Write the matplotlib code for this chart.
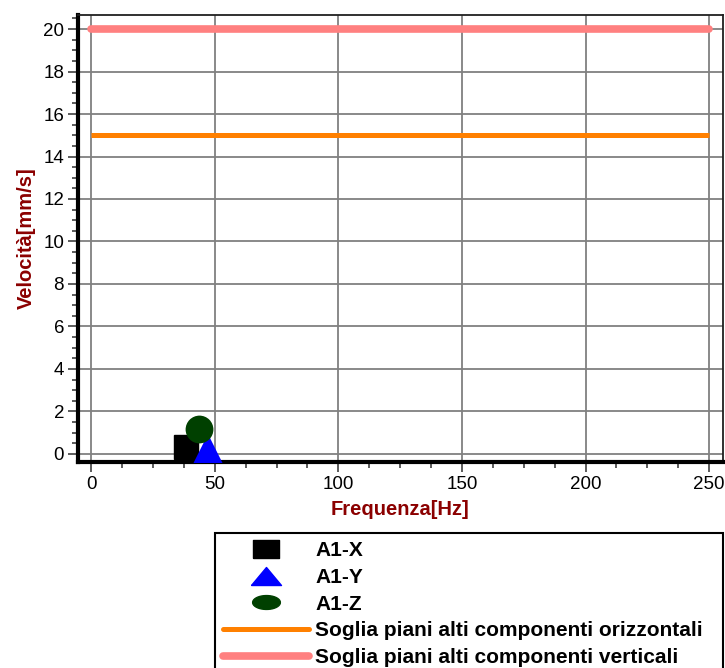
import numpy as np
import matplotlib.pyplot as plt
from matplotlib.lines import Line2D
from matplotlib.ticker import MultipleLocator

plt.rcParams['font.family'] = ['Liberation Sans', 'DejaVu Sans']

############################# DATA #############################
freq_x = [38.4]
vel_x = [0.33]
freq_y = [47.3]
vel_y = [0.21]
freq_z = [43.7]
vel_z = [1.18]

soglia_freq = [0, 250]
soglia_orizz = [15, 15]
soglia_vert = [20, 20]

labels = ['A1-X', 'A1-Y', 'A1-Z',
          'Soglia piani alti componenti orizzontali',
          'Soglia piani alti componenti verticali']

label_col = '#8B0000'

############################# PLOT #############################
fig = plt.figure(figsize=(7.25, 6.68), dpi=100)
ax = fig.add_axes([0.1076, 0.3084, 0.8896, 0.6691])

ax.plot(soglia_freq, soglia_vert, color='#FF8080', lw=5.5, solid_capstyle='round', zorder=3)
ax.plot(soglia_freq, soglia_orizz, color='#FF8000', lw=3.6, solid_capstyle='butt', zorder=3)

ax.plot(freq_x, vel_x, ls='none', marker='s', ms=17, color='black', zorder=4)
ax.plot(freq_y, vel_y, ls='none', marker='^', ms=21, color='#0000FF', mew=0, zorder=5)
ax.plot(freq_z, vel_z, ls='none', marker='o', ms=20, color='#004000', mew=0, zorder=6)

ax.set_xlim(-5.3, 255.6)
ax.set_ylim(-0.38, 20.66)
ax.xaxis.set_major_locator(MultipleLocator(50))
ax.xaxis.set_minor_locator(MultipleLocator(12.5))
ax.yaxis.set_major_locator(MultipleLocator(2))
ax.yaxis.set_minor_locator(MultipleLocator(0.5))
ax.grid(True, which='major', color='#808080', lw=1.3)
ax.set_axisbelow(True)

ax.tick_params(which='major', direction='out', length=7, width=1.2, color='#404040',
               labelsize=13.5, pad=3)
ax.tick_params(which='minor', direction='out', length=4, width=1.2, color='#404040')

for s in ['left', 'bottom']:
    ax.spines[s].set_linewidth(3)
    ax.spines[s].set_color('black')
for s in ['right', 'top']:
    ax.spines[s].set_linewidth(1.3)
    ax.spines[s].set_color('#202020')

ax.set_xlabel('Frequenza[Hz]', color=label_col, fontsize=14.5, fontweight='bold', labelpad=5)
ax.set_ylabel('Velocità[mm/s]', color=label_col, fontsize=14.5, fontweight='bold', labelpad=5)

############################# LEGEND #############################
rect = [(-1.44, -1), (1.44, -1), (1.44, 1), (-1.44, 1), (-1.44, -1)]
tri = [(-1, -0.6), (1, -0.6), (0, 0.6), (-1, -0.6)]
t = np.linspace(0, 2 * np.pi, 40)
ell = list(zip(np.cos(t), 0.5 * np.sin(t)))

handles = [
    Line2D([], [], ls='none', marker=rect, ms=18.7, color='black'),
    Line2D([], [], ls='none', marker=tri, ms=21.6, color='#0000FF'),
    Line2D([], [], ls='none', marker=ell, ms=20, color='#004000'),
    Line2D([], [], color='#FF8000', lw=3.6, solid_capstyle='round'),
    Line2D([], [], color='#FF8080', lw=5.5, solid_capstyle='round'),
]

leg = fig.legend(handles, labels, loc='upper left',
                 bbox_to_anchor=(0.2966, -0.05, 0.7, 0.2521), mode='expand',
                 prop={'size': 15, 'weight': 'bold'}, frameon=True, fancybox=False,
                 edgecolor='black', framealpha=1, borderpad=0.4, labelspacing=0.37,
                 handlelength=4.1, handletextpad=0.3, borderaxespad=0, numpoints=1)
leg.get_frame().set_linewidth(1.5)

fig.savefig('out.png', dpi=100)
